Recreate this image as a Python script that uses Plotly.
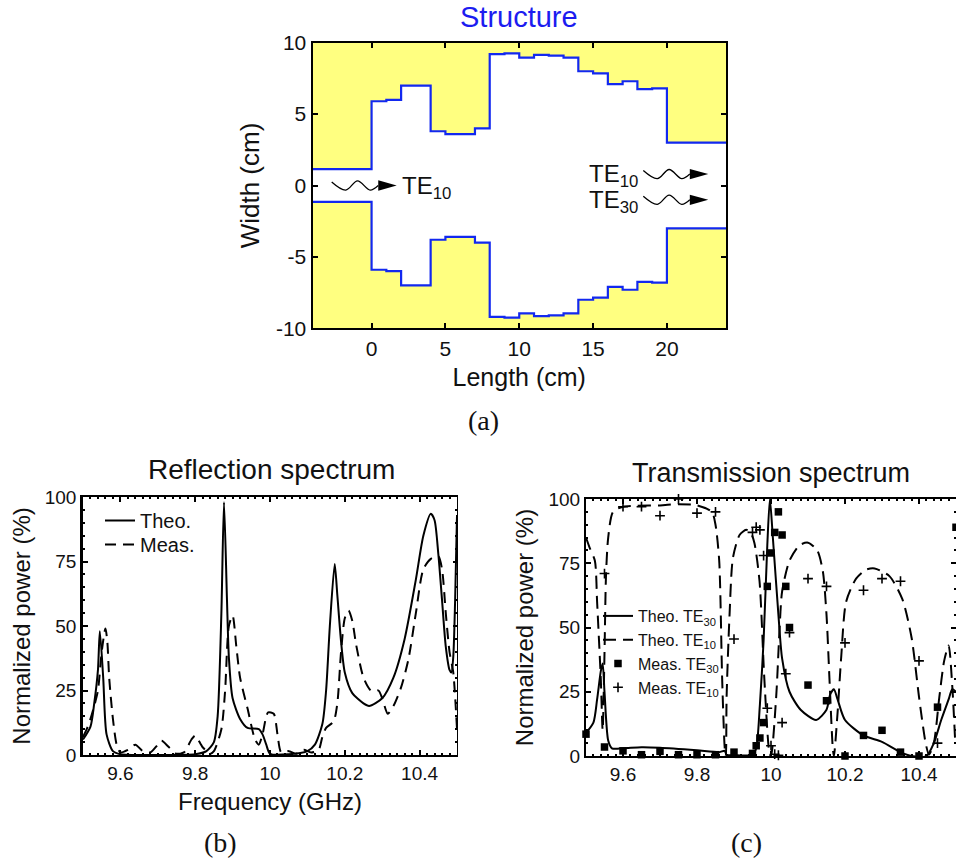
import plotly.graph_objects as go

W, H = 956, 862

# ---------- Structure ----------
wall_x = [-4, 0, 1, 2, 3, 4, 5, 6, 7, 8, 9, 10, 11, 12, 13, 14, 15, 16, 17, 18, 19, 20, 24]
wall_y = [1.15, 5.9, 6.0, 7.0, 7.0, 3.8, 3.6, 3.6, 4.0, 9.2, 9.25, 8.95, 9.15, 9.1, 8.95, 8.0, 7.85, 7.1, 7.3, 6.75, 6.8, 3.0, 3.0]

# ---------- Reflection ----------
refl_theo_x = [9.5, 9.52, 9.53, 9.54, 9.545, 9.554, 9.563, 9.58, 9.6, 9.7, 9.8, 9.83, 9.85, 9.86, 9.87, 9.877, 9.885, 9.89, 9.9, 9.92, 9.94, 9.97, 9.98, 9.99, 10.0, 10.05, 10.1, 10.12, 10.14, 10.15, 10.16, 10.173, 10.18, 10.19, 10.2, 10.22, 10.25, 10.265, 10.3, 10.33, 10.36, 10.39, 10.41, 10.43, 10.44, 10.45, 10.46, 10.47, 10.48, 10.485, 10.49, 10.495, 10.5]
refl_theo_y = [6, 11, 20, 33, 48, 30, 8, 1.5, 0.3, 0, 0.3, 1.5, 5, 15, 55, 98, 60, 38, 22, 14, 10.5, 10, 8, 4, 0.5, 0.3, 1.5, 4, 12, 25, 50, 74, 62, 44, 32, 24, 20, 19, 22, 30, 45, 68, 85, 93.5, 91, 78, 60, 42, 33, 32, 38, 60, 93]
refl_meas_x = [9.5, 9.51, 9.52, 9.53, 9.54, 9.55, 9.56, 9.565, 9.57, 9.58, 9.59, 9.6, 9.62, 9.64, 9.66, 9.68, 9.7, 9.71, 9.73, 9.75, 9.77, 9.79, 9.8, 9.82, 9.84, 9.85, 9.87, 9.88, 9.89, 9.9, 9.91, 9.92, 9.94, 9.96, 9.97, 9.98, 9.99, 9.995, 10.01, 10.02, 10.03, 10.05, 10.07, 10.09, 10.11, 10.13, 10.14, 10.15, 10.17, 10.18, 10.19, 10.2, 10.21, 10.22, 10.23, 10.25, 10.27, 10.29, 10.3, 10.315, 10.33, 10.35, 10.37, 10.39, 10.41, 10.43, 10.45, 10.46, 10.47, 10.48, 10.49, 10.5]
refl_meas_y = [7, 10, 14, 19, 25, 40, 49, 44, 30, 14, 4, 1, 2, 4, 1.5, 1, 4, 5.5, 3, 0.5, 1, 6, 7.5, 3, 0.5, 1.5, 10, 25, 50, 54, 42, 30, 18, 6, 4, 8, 15, 16.5, 16, 8, 1, 1.5, 0.5, 2, 1, 2, 7, 10.5, 13, 20, 40, 53, 56, 52, 43, 30, 25, 25, 22, 16, 19, 26, 37, 55, 72, 76, 77, 72, 55, 40, 32, 10]

# ---------- Transmission ----------
te30_theo_x = [9.5, 9.52, 9.53, 9.54, 9.545, 9.55, 9.56, 9.57, 9.6, 9.65, 9.7, 9.8, 9.86, 9.875, 9.88, 9.9, 9.95, 9.96, 9.97, 9.98, 9.99, 9.997, 10.005, 10.02, 10.03, 10.05, 10.08, 10.122, 10.15, 10.16, 10.17, 10.18, 10.2, 10.25, 10.3, 10.35, 10.38, 10.42, 10.44, 10.46, 10.48, 10.49, 10.5]
te30_theo_y = [9, 13, 22, 33, 36, 25, 6, 3, 3, 3.4, 3.2, 2.2, 1.5, 2, 0.5, 0.3, 0.5, 3, 20, 45, 82, 100, 85, 55, 38, 25, 18, 14, 18, 24, 26, 22, 14, 8, 5.5, 1.5, 0, 0, 5, 14, 22, 26, 25]
te10_theo_x = [9.5, 9.51, 9.524, 9.53, 9.54, 9.545, 9.55, 9.554, 9.56, 9.573, 9.6, 9.7, 9.75, 9.8, 9.84, 9.85, 9.86, 9.868, 9.875, 9.878, 9.88, 9.888, 9.897, 9.915, 9.933, 9.945, 9.955, 9.969, 9.982, 9.996, 10.0, 10.014, 10.023, 10.03, 10.05, 10.077, 10.1, 10.125, 10.14, 10.15, 10.158, 10.167, 10.17, 10.18, 10.19, 10.203, 10.23, 10.257, 10.28, 10.32, 10.355, 10.38, 10.4, 10.418, 10.427, 10.44, 10.455, 10.468, 10.48, 10.49, 10.498]
te10_theo_y = [85, 81, 76, 60, 30, 10, 40, 70, 85, 95, 97, 97.5, 98, 97.5, 95, 90, 76, 30, 3, 0, 23, 55, 77, 86, 88, 87, 83, 68, 30, 1, 0, 23, 49, 64, 76, 82, 83, 80, 72, 55, 30, 3, 0, 17, 39, 60, 69, 72.5, 73, 70, 61, 46, 23, 5, 0.5, 5, 23, 37, 43, 27, 5]
te30_meas_x = [9.5, 9.55, 9.6, 9.65, 9.7, 9.75, 9.8, 9.85, 9.9, 9.95, 9.96, 9.97, 9.98, 9.99, 10.0, 10.01, 10.02, 10.03, 10.04, 10.05, 10.1, 10.15, 10.2, 10.25, 10.3, 10.35, 10.4, 10.45, 10.5]
te30_meas_y = [8.5, 3.5, 2, 0.5, 1.8, 0.5, 0.5, 0.5, 1.5, 1, 4, 7, 13, 66, 79, 87, 95, 86, 66, 50, 27.6, 21.5, 0, 8, 10, 1.5, 0, 19, 89]
te10_meas_x = [9.55, 9.6, 9.65, 9.7, 9.75, 9.8, 9.85, 9.9, 9.95, 9.96, 9.97, 9.98, 9.99, 10.0, 10.01, 10.02, 10.03, 10.04, 10.05, 10.1, 10.15, 10.2, 10.25, 10.3, 10.35, 10.4, 10.45]
te10_meas_y = [71, 97, 97, 93.5, 100, 94.5, 95, 45.5, 87, 89, 88, 78, 18.6, 4, 0.7, 0.3, 13, 32, 48, 69, 66, 44, 64.5, 69, 68, 37, 5]

x_ticks_a = [0, 5, 10, 15, 20]
y_ticks_a = [-10, -5, 0, 5, 10]
y_labels_a = ["-10", "-5", "0", "5", "10"]
x_ticks_f = [9.6, 9.8, 10, 10.2, 10.4]
y_ticks_p = [0, 25, 50, 75, 100]

# Squiggle decoration on the mode labels: x offsets from start (cm), y offsets from centre (cm)
sq_dx = [0, 0.95, 1.75, 2.6, 3.15]
sq_dy = [0.25, -0.32, 0.32, -0.32, 0]
sq_starts = [(-2.7, 0.0), (18.4, 0.8), (18.4, -1.0)]

# pixel rectangles (left, right, top, bottom)
RA = (312.5, 726, 42.7, 328.3)
RB = (83, 457, 497, 755)
RC = (586, 956, 499, 756)


def dom_x(r):
    return [r[0] / W, r[1] / W]


def dom_y(r):
    return [1 - r[3] / H, 1 - r[2] / H]


FONT = "Liberation Sans"
SERIF = "Liberation Serif"
BLUE = "#1228f0"
YEL = "#ffff80"
SMOOTH = 0.7

fig = go.Figure()
# Structure: yellow walls + blue outline
for sign, edge in ((1, 10), (-1, -10)):
    fig.add_trace(go.Scatter(x=wall_x, y=[edge] * len(wall_x), mode="lines", line=dict(width=0, shape="hv"),
                             showlegend=False, hoverinfo="skip", xaxis="x", yaxis="y"))
    fig.add_trace(go.Scatter(x=wall_x, y=[sign * v for v in wall_y], mode="lines",
                             line=dict(color=BLUE, width=2.2, shape="hv"), fill="tonexty", fillcolor=YEL,
                             showlegend=False, xaxis="x", yaxis="y"))
shapes = []
for x0, y0 in sq_starts:
    xs = [x0 + d for d in sq_dx]
    ys = [y0 + d for d in sq_dy]
    fig.add_trace(go.Scatter(x=xs, y=ys, mode="lines", line=dict(color="black", width=1.3, shape="spline"),
                             showlegend=False, xaxis="x", yaxis="y"))
    tail = xs[-1]
    shapes.append(dict(type="path", xref="x", yref="y", fillcolor="black", line=dict(width=0),
                       path=f"M {tail},{y0 + 0.36} L {tail + 1.25},{y0} L {tail},{y0 - 0.36} Z"))

# Reflection
fig.add_trace(go.Scatter(x=refl_theo_x, y=refl_theo_y, mode="lines", name="Theo.",
                         line=dict(color="black", width=2, shape="spline", smoothing=SMOOTH),
                         xaxis="x2", yaxis="y2", legend="legend"))
fig.add_trace(go.Scatter(x=refl_meas_x, y=refl_meas_y, mode="lines", name="Meas.",
                         line=dict(color="black", width=2, dash="11px,7px", shape="spline", smoothing=SMOOTH),
                         xaxis="x2", yaxis="y2", legend="legend3"))
# carries the thin right-hand frame of the reflection panel
fig.add_trace(go.Scatter(x=refl_theo_x, y=refl_theo_y, mode="lines", opacity=0, showlegend=False, hoverinfo="skip",
                         xaxis="x2", yaxis="y4"))

# Transmission
fig.add_trace(go.Scatter(x=te30_theo_x, y=te30_theo_y, mode="lines", name="Theo. TE<sub>30</sub>",
                         line=dict(color="black", width=2, shape="spline", smoothing=SMOOTH),
                         xaxis="x3", yaxis="y3", legend="legend2"))
fig.add_trace(go.Scatter(x=te10_theo_x, y=te10_theo_y, mode="lines", name="Theo. TE<sub>10</sub>",
                         line=dict(color="black", width=2, dash="13px,7px", shape="spline", smoothing=SMOOTH),
                         xaxis="x3", yaxis="y3", legend="legend2"))
fig.add_trace(go.Scatter(x=te30_meas_x, y=te30_meas_y, mode="markers", name="Meas. TE<sub>30</sub>",
                         marker=dict(symbol="square", size=7.5, color="black"), xaxis="x3", yaxis="y3",
                         legend="legend2", cliponaxis=False))
fig.add_trace(go.Scatter(x=te10_meas_x, y=te10_meas_y, mode="markers", name="Meas. TE<sub>10</sub>",
                         marker=dict(symbol="cross-thin", size=7, color="black", line=dict(color="black", width=1.6)),
                         xaxis="x3", yaxis="y3", legend="legend2", cliponaxis=False))


def axis(domain, rng, ticks, size, title, tsize, standoff, minor=None, anchor=None, labels=None, mirror="ticks",
         linewidth=2):
    d = dict(domain=domain, range=rng, tickmode="array", tickvals=ticks, ticks="inside", ticklen=5, tickwidth=2,
             tickcolor="black", showline=True, linecolor="black", linewidth=linewidth, mirror=mirror, showgrid=False,
             zeroline=False, tickfont=dict(size=size, color="#111", family=FONT), anchor=anchor, automargin=False)
    if labels:
        d["ticktext"] = labels
    if title:
        d["title"] = dict(text=title, font=dict(size=tsize, color="#111", family=FONT), standoff=standoff)
    if minor:
        d["minor"] = dict(dtick=minor, ticks="inside", ticklen=2, tickwidth=1.5, tickcolor="black", showgrid=False,
                          tick0=0)
    return d


def note(text, x, y, size, color="#111", family=FONT, xanchor="center"):
    return dict(text=text, x=x / W, y=1 - y / H, xref="paper", yref="paper", showarrow=False, xanchor=xanchor,
                yanchor="middle", font=dict(size=size, color=color, family=family))


annotations = [
    note("Structure", 519, 16.5, 29, color="#1c1cf0"),
    note("Reflection spectrum", 271, 470, 28),
    note("Transmission spectrum", 771, 473, 27),
    note("(a)", 483, 420, 28, family=SERIF),
    note("(b)", 220, 842, 28, family=SERIF),
    note("(c)", 746, 842, 28, family=SERIF),
    note("TE<sub>10</sub>", 400, 188, 24, xanchor="left"),
    note("TE<sub>10</sub>", 587, 175, 24, xanchor="left"),
    note("TE<sub>30</sub>", 587, 201, 24, xanchor="left"),
]

y4 = axis(dom_y(RB), [0, 100], y_ticks_p, 19, None, 24, 0, minor=5, anchor="x2", mirror=False, linewidth=1)
y4.update(overlaying="y2", side="right", showticklabels=False, ticklen=4, tickwidth=1.5)

fig.update_layout(
    width=W, height=H, autosize=False, margin=dict(l=0, r=0, t=0, b=0), paper_bgcolor="white", plot_bgcolor="white",
    font=dict(family=FONT, color="#111"),
    xaxis=axis(dom_x(RA), [-4, 24], x_ticks_a, 21, "Length (cm)", 25, 10, anchor="y"),
    yaxis=axis(dom_y(RA), [-10, 10], y_ticks_a, 21, "Width (cm)", 26, 9, anchor="x", labels=y_labels_a),
    xaxis2=axis(dom_x(RB), [9.5, 10.5], x_ticks_f, 19, "Frequency (GHz)", 24, 10, minor=0.02, anchor="y2"),
    yaxis2=axis(dom_y(RB), [0, 100], y_ticks_p, 19, "Normalized power (%)", 24, 8, minor=5, anchor="x2", mirror=False,
                linewidth=2.5),
    xaxis3=axis(dom_x(RC), [9.5, 10.5], x_ticks_f, 19, None, 24, 3, minor=0.02, anchor="y3"),
    yaxis3=axis(dom_y(RC), [0, 100], y_ticks_p, 19, "Normalized power (%)", 24, 8, minor=5, anchor="x3"),
    yaxis4=y4,
    legend=dict(x=100 / W, y=1 - 501 / H, xanchor="left", yanchor="top", bgcolor="rgba(0,0,0,0)",
                font=dict(size=20, color="#111", family=FONT), itemwidth=30),
    legend3=dict(x=100 / W, y=1 - 525 / H, xanchor="left", yanchor="top", bgcolor="rgba(0,0,0,0)",
                 font=dict(size=20, color="#111", family=FONT), itemwidth=30),
    legend2=dict(x=598 / W, y=1 - 599 / H, xanchor="left", yanchor="top", bgcolor="rgba(0,0,0,0)",
                 font=dict(size=16, color="#111", family=FONT), itemwidth=30, traceorder="normal"),
    annotations=annotations, shapes=shapes,
)

fig.write_html("out.html", config=dict(displayModeBar=False), post_script="document.body.style.margin='0';")
